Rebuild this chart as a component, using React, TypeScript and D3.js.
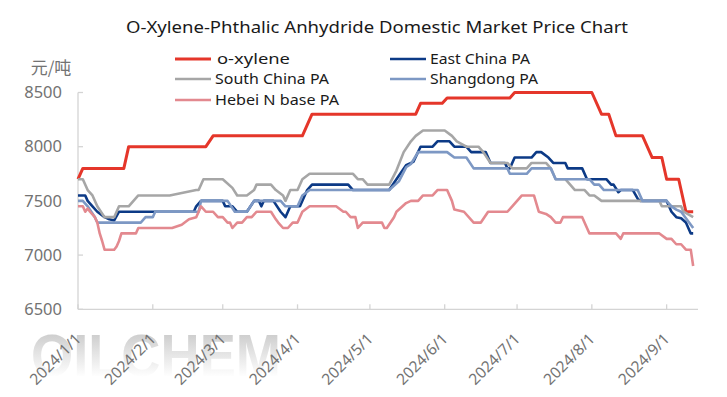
import React from "react";
import * as d3 from "d3";

const chartTitle = "O-Xylene-Phthalic Anhydride Domestic Market Price Chart";
const unitLabel = "元/吨";
const watermark = "OILCHEM";
const yTickValues = [6500, 7000, 7500, 8000, 8500];
const xTickLabels = ["2024/1/1", "2024/2/1", "2024/3/1", "2024/4/1", "2024/5/1", "2024/6/1", "2024/7/1", "2024/8/1", "2024/9/1"];
const xDomain = ["2024/1/1", "2024/9/14"];
const seriesNames = ["o-xylene", "East China PA", "South China PA", "Shangdong PA", "Hebei N base PA"];
const seriesColors = ["#e5362a", "#0c3a86", "#a6a6a6", "#7d98c4", "#e3898f"];

const oXylene: [string, number][] = [
  ["1/1", 7700], ["1/3", 7800], ["1/20", 7800], ["1/22", 8000], ["2/23", 8000], ["2/26", 8100],
  ["4/3", 8100], ["4/7", 8300], ["5/20", 8300], ["5/22", 8400], ["5/31", 8400], ["6/2", 8450],
  ["6/28", 8450], ["6/30", 8500], ["8/1", 8500], ["8/5", 8300], ["8/8", 8300], ["8/11", 8100],
  ["8/22", 8100], ["8/26", 7900], ["8/30", 7900], ["9/1", 7700], ["9/6", 7700], ["9/9", 7400], ["9/12", 7400],
];

const eastChinaPA: [string, number][] = [
  ["1/1", 7550], ["1/4", 7550], ["1/5", 7500], ["1/7", 7450], ["1/9", 7400], ["1/12", 7350], ["1/14", 7330],
  ["1/16", 7320], ["1/18", 7400], ["2/18", 7400], ["2/19", 7450], ["2/21", 7500], ["3/1", 7500], ["3/2", 7450],
  ["3/5", 7450], ["3/7", 7400], ["3/11", 7400], ["3/14", 7500], ["3/16", 7500], ["3/17", 7450], ["3/18", 7500],
  ["3/22", 7500], ["3/25", 7400], ["3/27", 7350], ["3/28", 7400], ["3/29", 7450], ["4/2", 7450], ["4/5", 7600],
  ["4/7", 7650], ["4/22", 7650], ["4/24", 7600], ["5/9", 7600], ["5/12", 7700], ["5/16", 7830], ["5/19", 7860],
  ["5/22", 8000], ["5/27", 8000], ["5/29", 8050], ["6/3", 8050], ["6/5", 8000], ["6/10", 8000], ["6/12", 7950],
  ["6/18", 7950], ["6/20", 7850], ["6/26", 7850], ["6/27", 7800], ["6/28", 7800], ["6/30", 7900], ["7/7", 7900],
  ["7/9", 7950], ["7/11", 7950], ["7/14", 7900], ["7/16", 7850], ["7/21", 7850], ["7/22", 7800], ["7/28", 7800],
  ["7/30", 7700], ["8/7", 7700], ["8/9", 7650], ["8/10", 7650], ["8/12", 7580], ["8/13", 7600], ["8/18", 7600],
  ["8/20", 7520], ["8/21", 7500], ["9/1", 7500], ["9/3", 7400], ["9/5", 7350], ["9/7", 7340], ["9/9", 7300],
  ["9/11", 7200], ["9/12", 7200],
];

const southChinaPA: [string, number][] = [
  ["1/1", 7700], ["1/3", 7700], ["1/5", 7600], ["1/7", 7550], ["1/9", 7450], ["1/12", 7350], ["1/16", 7350],
  ["1/18", 7450], ["1/22", 7450], ["1/24", 7500], ["1/26", 7550], ["2/8", 7550], ["2/19", 7600], ["2/20", 7600],
  ["2/22", 7700], ["3/1", 7700], ["3/5", 7620], ["3/7", 7550], ["3/11", 7550], ["3/14", 7600], ["3/15", 7650],
  ["3/21", 7650], ["3/23", 7600], ["3/26", 7550], ["3/27", 7500], ["3/29", 7600], ["4/1", 7600], ["4/3", 7700],
  ["4/6", 7750], ["4/24", 7750], ["4/26", 7700], ["4/28", 7700], ["4/30", 7650], ["5/9", 7650], ["5/12", 7780],
  ["5/15", 7950], ["5/18", 8050], ["5/20", 8100], ["5/23", 8150], ["6/1", 8150], ["6/4", 8100], ["6/6", 8050],
  ["6/10", 8000], ["6/15", 8000], ["6/17", 7950], ["6/20", 7850], ["6/27", 7850], ["6/29", 7800], ["7/5", 7800],
  ["7/7", 7850], ["7/13", 7850], ["7/15", 7800], ["7/17", 7700], ["7/21", 7700], ["7/23", 7650], ["7/25", 7600],
  ["7/29", 7600], ["7/31", 7550], ["8/2", 7550], ["8/5", 7500], ["8/29", 7500], ["8/30", 7450], ["9/7", 7450],
  ["9/8", 7400], ["9/12", 7350],
];

const shangdongPA: [string, number][] = [
  ["1/1", 7500], ["1/3", 7500], ["1/5", 7450], ["1/8", 7350], ["1/9", 7300], ["1/27", 7300], ["1/29", 7350],
  ["2/1", 7350], ["2/2", 7400], ["2/20", 7400], ["2/21", 7500], ["3/3", 7500], ["3/6", 7400], ["3/11", 7400],
  ["3/14", 7500], ["3/25", 7500], ["3/27", 7450], ["4/1", 7450], ["4/3", 7550], ["4/6", 7600], ["5/9", 7600],
  ["5/13", 7680], ["5/16", 7810], ["5/18", 7840], ["5/21", 7950], ["6/2", 7950], ["6/5", 7900], ["6/10", 7900],
  ["6/13", 7800], ["6/27", 7800], ["6/28", 7750], ["7/5", 7750], ["7/7", 7800], ["7/15", 7800], ["7/17", 7700],
  ["7/31", 7700], ["8/2", 7650], ["8/4", 7650], ["8/6", 7600], ["8/20", 7600], ["8/22", 7500], ["9/1", 7500],
  ["9/3", 7450], ["9/5", 7420], ["9/7", 7400], ["9/9", 7340], ["9/12", 7250],
];

const hebeiNBasePA: [string, number][] = [
  ["1/1", 7450], ["1/3", 7450], ["1/4", 7400], ["1/5", 7430], ["1/6", 7400], ["1/8", 7350], ["1/9", 7300],
  ["1/10", 7200], ["1/11", 7130], ["1/12", 7050], ["1/16", 7050], ["1/17", 7080], ["1/18", 7130], ["1/19", 7200],
  ["1/25", 7200], ["1/26", 7250], ["2/9", 7250], ["2/13", 7280], ["2/16", 7330], ["2/19", 7350], ["2/21", 7450],
  ["2/23", 7400], ["2/26", 7400], ["2/28", 7350], ["3/1", 7350], ["3/3", 7300], ["3/4", 7300], ["3/5", 7250],
  ["3/7", 7300], ["3/9", 7300], ["3/11", 7350], ["3/13", 7350], ["3/15", 7400], ["3/21", 7400], ["3/23", 7330],
  ["3/24", 7300], ["3/26", 7250], ["3/28", 7250], ["3/30", 7300], ["4/1", 7300], ["4/3", 7400], ["4/6", 7450],
  ["4/17", 7450], ["4/20", 7400], ["4/21", 7400], ["4/23", 7350], ["4/25", 7350], ["4/26", 7250], ["4/28", 7300],
  ["5/6", 7300], ["5/7", 7250], ["5/8", 7250], ["5/11", 7350], ["5/12", 7400], ["5/16", 7480], ["5/18", 7500],
  ["5/21", 7500], ["5/23", 7550], ["5/27", 7550], ["5/29", 7600], ["6/2", 7600], ["6/4", 7500], ["6/5", 7420],
  ["6/9", 7400], ["6/13", 7300], ["6/16", 7300], ["6/19", 7400], ["6/27", 7400], ["6/29", 7450], ["7/1", 7500],
  ["7/3", 7550], ["7/8", 7550], ["7/10", 7400], ["7/13", 7380], ["7/15", 7350], ["7/17", 7300], ["7/19", 7300],
  ["7/20", 7350], ["7/28", 7350], ["7/31", 7200], ["8/11", 7200], ["8/13", 7150], ["8/14", 7200], ["8/29", 7200],
  ["9/1", 7150], ["9/3", 7150], ["9/5", 7100], ["9/7", 7100], ["9/9", 7050], ["9/11", 7050], ["9/12", 6900],
];

const seriesData = [oXylene, eastChinaPA, southChinaPA, shangdongPA, hebeiNBasePA];

function parseDate(s: string): Date {
  const parts = s.split("/").map(Number);
  if (parts.length === 3) return new Date(parts[0], parts[1] - 1, parts[2]);
  return new Date(2024, parts[0] - 1, parts[1]);
}

const W = 727;
const H = 397;
const FONT = "'Noto Sans', 'Open Sans', sans-serif";
const CJK = "'Noto Sans CJK SC', sans-serif";

export default function App() {
  const x = d3.scaleTime().domain(xDomain.map(parseDate)).range([78, 698]);
  const y = d3.scaleLinear().domain([6500, 8500]).range([309.3, 92.5]);
  const line = d3
    .line<[string, number]>()
    .x((d) => x(parseDate(d[0])))
    .y((d) => y(d[1]));

  const axisColor = "#d4d4d4";
  const labelColor = "#737373";

  const legendItems = [
    { i: 0, lx: 175, ly: 59, size: 15, len: 73 },
    { i: 1, lx: 390, ly: 59, size: 13.5, len: 100 },
    { i: 2, lx: 175, ly: 79, size: 13.5, len: 114 },
    { i: 3, lx: 390, ly: 79, size: 13.5, len: 108 },
    { i: 4, lx: 175, ly: 100, size: 13.5, len: 124 },
  ];

  return (
    <svg
      width={W}
      height={H}
      style={{ position: "absolute", left: 0, top: 0, background: "#fff" }}
      fontFamily={FONT}
    >
      <defs>
        <linearGradient id="wm" x1="0" y1="326" x2="0" y2="377" gradientUnits="userSpaceOnUse">
          <stop offset="0" stopColor="#c4c4c4" />
          <stop offset="0.5" stopColor="#e2e2e2" />
          <stop offset="1" stopColor="#ffffff" />
        </linearGradient>
      </defs>
      <rect x={0} y={0} width={W} height={H} fill="#fff" />

      {/* watermark */}
      <text
        x={31}
        y={376}
        fontSize={60}
        fontWeight="bold"
        fontFamily="'Liberation Sans', Arial, sans-serif"
        textLength={250}
        lengthAdjust="spacingAndGlyphs"
        fill="url(#wm)"
      >
        {watermark}
      </text>

      {/* title */}
      <text
        x={377}
        y={33}
        textAnchor="middle"
        fontSize={16}
        textLength={502}
        lengthAdjust="spacingAndGlyphs"
        fill="#1a1a1a"
      >
        {chartTitle}
      </text>

      {/* unit */}
      <text x={51} y={74} textAnchor="middle" fontSize={17} fill={labelColor} fontFamily={CJK}>
        {unitLabel}
      </text>

      {/* axes */}
      <line x1={78} x2={78} y1={y(8500)} y2={y(6500)} stroke={axisColor} strokeWidth={1.3} />
      <line x1={78} x2={698} y1={y(6500)} y2={y(6500)} stroke={axisColor} strokeWidth={1.3} />
      {yTickValues.map((v) => (
        <g key={v}>
          <line x1={78} x2={83} y1={y(v)} y2={y(v)} stroke={axisColor} strokeWidth={1.3} />
          <text x={62} y={y(v)} dy="0.34em" textAnchor="end" fontSize={16.5} fill={labelColor}>
            {v}
          </text>
        </g>
      ))}
      {xTickLabels.map((t) => {
        const tx = x(parseDate(t));
        return (
          <g key={t}>
            <line x1={tx} x2={tx} y1={y(6500)} y2={y(6500) - 5} stroke={axisColor} strokeWidth={1.3} />
            <text
              transform={`translate(${tx + 4},340) rotate(-45)`}
              textAnchor="end"
              fontSize={15.5}
              fill={labelColor}
            >
              {t}
            </text>
          </g>
        );
      })}

      {/* series */}
      {seriesData.map((s, i) => (
        <path
          key={seriesNames[i]}
          d={line(s) || ""}
          fill="none"
          stroke={seriesColors[i]}
          strokeWidth={i === 0 ? 3 : 2.6}
          strokeLinejoin="round"
        />
      ))}

      {/* legend */}
      {legendItems.map(({ i, lx, ly, size, len }) => (
        <g key={seriesNames[i]}>
          <line x1={lx} x2={lx + 36} y1={ly} y2={ly} stroke={seriesColors[i]} strokeWidth={i === 0 ? 3 : 2.6} />
          <text
            x={lx + (i === 0 ? 42 : 40)}
            y={ly}
            dy="0.35em"
            fontSize={size}
            textLength={len}
            lengthAdjust="spacingAndGlyphs"
            fill="#1a1a1a"
          >
            {seriesNames[i]}
          </text>
        </g>
      ))}
    </svg>
  );
}
